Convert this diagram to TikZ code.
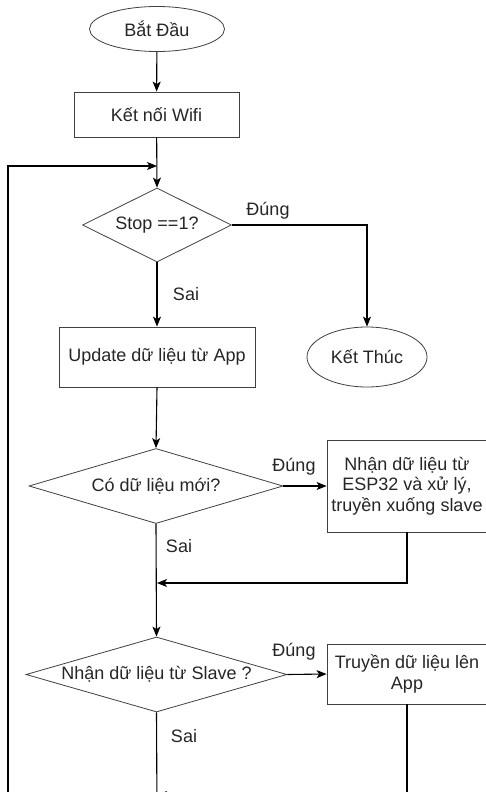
\documentclass[tikz,border=0pt]{standalone}
\usepackage{fontspec}
\setmainfont{Liberation Sans}
\usetikzlibrary{shapes.geometric,arrows.meta}

\begin{document}
\begin{tikzpicture}[x=1pt,y=-1pt,
  every node/.style={font=\fontsize{18}{20.5}\selectfont, text=black!85},
  term/.style={ellipse, draw=black!75, line width=0.8pt, inner sep=0pt},
  proc/.style={rectangle, draw=black!75, line width=0.8pt, inner sep=0pt, align=center},
  decide/.style={diamond, draw=black!75, line width=0.8pt, inner sep=0pt, aspect=3.5},
  flow/.style={line width=1.1pt, black, -{Stealth[length=10pt,width=8pt,inset=2.5pt]}},
  wire/.style={line width=1.1pt, black},
  lbl/.style={inner sep=0pt}
]
\useasboundingbox (0,0) rectangle (486,792);
\fill[white] (0,0) rectangle (486,792);
\clip (0,0) rectangle (486,792);

% terminals
\node[term, minimum width=135pt, minimum height=45pt] (start) at (157,29) {Bắt Đầu};
\node[term, minimum width=120pt, minimum height=60pt] (stopend) at (367,357) {Kết Thúc};

% process boxes
\node[proc, minimum width=165pt, minimum height=45pt] (wifi) at (156.5,114.5) {Kết nối Wifi};
\node[proc, minimum width=196pt, minimum height=60pt] (update) at (157,357) {Update dữ liệu từ App};
\node[proc, minimum width=160pt, minimum height=92pt] (esp) at (407,486)
  {Nhận dữ liệu từ\\ESP32 và xử lý,\\truyền xuống slave};
\node[proc, minimum width=160pt, minimum height=60pt] (app) at (407,674)
  {Truyền dữ liệu lên\\App};

% decisions
\node[decide, aspect=2, minimum width=149pt, minimum height=74pt] (stop) at (157,225) {Stop ==1?};
\node[decide, minimum width=254pt, minimum height=75pt] (q1) at (156,486) {Có dữ liệu mới?};
\node[decide, minimum width=261pt, minimum height=75pt] (q2) at (156.5,674.5) {Nhận dữ liệu từ Slave ?};

% branch labels
\node[lbl] (y0) at (268,211) {Đúng};
\node[lbl] (n0) at (186,294) {Sai};
\node[lbl] (y1) at (294,467) {Đúng};
\node[lbl] (n1) at (179,546) {Sai};
\node[lbl] (y2) at (294,652) {Đúng};
\node[lbl] (n2) at (184,736) {Sai};

% junction points
\coordinate (loopjoin) at (157,166);
\coordinate (join1) at (157,583);
\coordinate (join2) at (157,795);
\coordinate (bottom) at (157,815);
\coordinate (lbot) at (8,815);

% connectors
\draw[flow] (start) -- (wifi);
\draw[flow] (wifi) -- (stop.north);
\draw[flow] (stop.east) -| (stopend.north);
\draw[flow] (stop.south) -- (update.north);
\draw[flow] (update.south) -- (q1.north);
\draw[flow] (q1.east) -- (esp.west);
\draw[flow] (q1.south) -- (q2.north);
\draw[flow] (esp.south) |- (join1);
\draw[flow] (q2.east) -- (app.west);
\draw[flow] (app.south) |- (join2);
\draw[wire] (q2.south) -- (bottom);
\draw[flow] (bottom) -- (lbot) |- (loopjoin);
\end{tikzpicture}
\end{document}
